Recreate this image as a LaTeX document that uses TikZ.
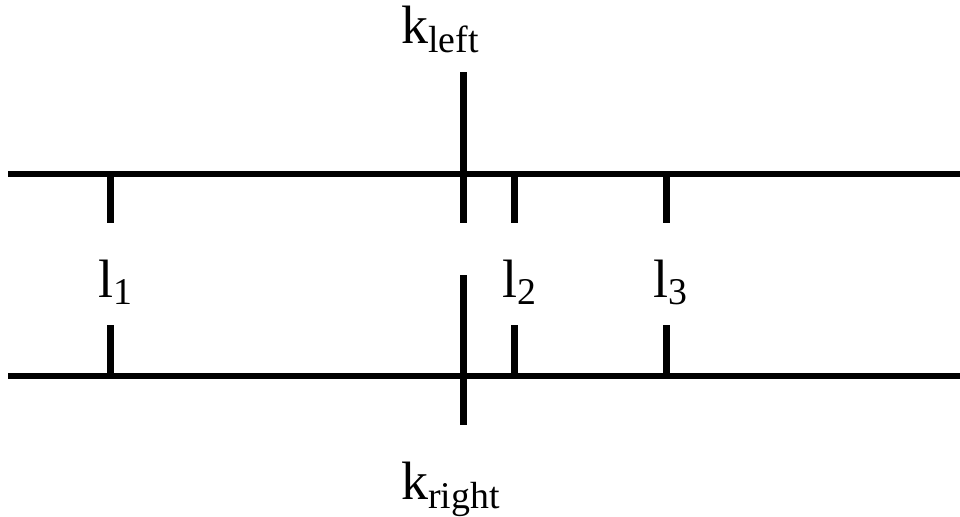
\documentclass[tikz,border=0pt]{standalone}
\usepackage{fontspec}
\setmainfont{Liberation Serif}
\tikzset{
  rail/.style={line width=3pt},
  cut/.style={line width=3.5pt},
  lab/.style={anchor=base west, inner sep=0pt, font=\fontsize{27}{32}\selectfont}
}
\begin{document}
\begin{tikzpicture}[x=0.5pt,y=-0.5pt]
  \useasboundingbox (0,0) rectangle (960,516);
  \coordinate (ta) at (8,174);
  \coordinate (tb) at (960,174);
  \coordinate (ba) at (8,376);
  \coordinate (bb) at (960,376);
  \draw[rail] (ta) -- (tb);
  \draw[rail] (ba) -- (bb);
  \foreach \n/\x in {1/110, 2/514, 3/666} {
    \draw[cut] (\x,174) -- (\x,223);
    \draw[cut] (\x,325) -- (\x,376);
  }
  \draw[cut] (463,72) -- (463,223);
  \draw[cut] (463,275) -- (463,425);
  \node[lab] (kl) at (401,43) {k\textsubscript{left}};
  \node[lab] (kr) at (401,499) {k\textsubscript{right}};
  \node[lab] (l1) at (98,297) {l\textsubscript{1}};
  \node[lab] (l2) at (502,297) {l\textsubscript{2}};
  \node[lab] (l3) at (653,297) {l\textsubscript{3}};
\end{tikzpicture}
\end{document}
